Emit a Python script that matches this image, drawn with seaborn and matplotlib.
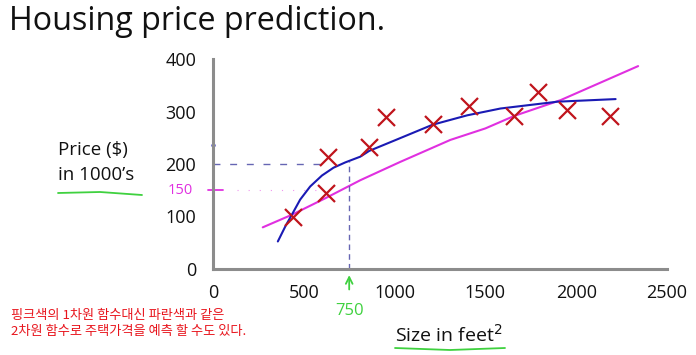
import matplotlib
matplotlib.use('Agg')
import matplotlib.pyplot as plt
import seaborn as sns
import pandas as pd
from matplotlib.lines import Line2D

# data
size_ft = [443, 621, 636, 860, 954, 1209, 1412, 1660, 1791, 1951, 2186]
price_k = [99, 144, 214, 232, 289, 276, 311, 292, 338, 304, 292]

# pink: straight-line (1st order) fit, hand drawn
lin_x = [274, 434, 621, 811, 1031, 1307, 1500, 1660, 1914, 2341]
lin_y = [79, 103, 135, 169, 204, 246, 268, 292, 322, 387]

# blue: quadratic (2nd order) fit, hand drawn
quad_x = [357, 400, 434, 480, 535, 600, 664, 728, 811, 860, 1000, 1209,
          1400, 1583, 1896, 2217]
quad_y = [52, 82, 103, 132, 157, 178, 193, 203, 214, 225, 245, 275,
          293, 306, 319, 324]

x_ticks = [0, 500, 1000, 1500, 2000, 2500]
y_ticks = [0, 100, 200, 300, 400]

pred_size = 750
pred_quad = 200
pred_lin = 150

W, H = 696, 355
AXIS_GRAY = '#8c8c8c'
RED = '#c0141c'
BLUE = '#1a1ab4'
PINK = '#e030e0'
GREEN = '#3fd13f'
FONT = ['Open Sans', 'DejaVu Sans']
KFONT = ['Noto Sans CJK KR', 'DejaVu Sans']

sns.set_theme(style='white')
plt.rcParams['font.family'] = FONT


def fx(px):
    return px / W


def fy(py):
    return 1 - py / H


fig = plt.figure(figsize=(W / 100, H / 100), dpi=100)
ax = fig.add_axes([fx(213), fy(268.7), 454 / W, 209.4 / H])

pts = pd.DataFrame({'size': size_ft, 'price': price_k})
lin = pd.DataFrame({'x': lin_x, 'y': lin_y})
quad = pd.DataFrame({'x': quad_x, 'y': quad_y})

sns.lineplot(data=lin, x='x', y='y', sort=False, color=PINK, lw=1.5, ax=ax)
sns.lineplot(data=quad, x='x', y='y', sort=False, color=BLUE, lw=1.5, ax=ax)
sns.scatterplot(data=pts, x='size', y='price', marker='x', s=150, color=RED,
                linewidth=1.6, ax=ax, zorder=5)

# prediction guide lines
ax.plot([0, 630], [pred_quad, pred_quad], color='#4040a0', lw=1,
        ls=(0, (5, 7)), alpha=0.8)
ax.plot([pred_size, pred_size], [0, 205], color='#4040a0', lw=1,
        ls=(0, (4, 3)), alpha=0.8)
ax.plot([-28, 55], [pred_lin, pred_lin], color=PINK, lw=1.3, clip_on=False)
ax.plot([130, 570], [pred_lin, pred_lin], color=PINK, lw=0.8,
        ls=(0, (1, 9)), alpha=0.5)
ax.plot([0], [236], marker='o', ms=2, color=BLUE, clip_on=False)

ax.set_xlim(0, 2500)
ax.set_ylim(0, 400)
ax.set_xticks(x_ticks)
ax.set_yticks(y_ticks)
ax.set_xlabel('')
ax.set_ylabel('')
for side in ['top', 'right']:
    ax.spines[side].set_visible(False)
for side in ['left', 'bottom']:
    ax.spines[side].set_color(AXIS_GRAY)
    ax.spines[side].set_linewidth(2.2)
ax.tick_params(direction='inout', length=8, width=2.2, color=AXIS_GRAY,
               labelsize=13, labelcolor='#111111', pad=7)
ax.tick_params(axis='y', pad=8)

# handwritten notes
ax.text(-250, pred_lin, '150', color=PINK, fontsize=10.5, va='center',
        ha='left', clip_on=False)
ax.annotate('', xy=(pred_size, -7), xytext=(pred_size, -45),
            xycoords='data', textcoords='data', annotation_clip=False,
            arrowprops=dict(arrowstyle='->', color=GREEN, lw=1.3))
ax.text(pred_size, -80, '750', color=GREEN, fontsize=12, ha='center',
        va='center', clip_on=False)

# texts outside the axes
fig.text(fx(9), fy(22), 'Housing price prediction.', fontsize=23.2,
         va='center', ha='left', color='#111111')
fig.text(fx(58), fy(150), 'Price ($)', fontsize=13.5, va='center',
         color='#111111')
fig.text(fx(58), fy(175), 'in 1000\u2019s', fontsize=13.5, va='center',
         color='#111111')
fig.text(fx(395), fy(335), 'Size in feet$^2$', fontsize=14, va='center',
         color='#111111')

fig.add_artist(Line2D([fx(58), fx(100), fx(142)], [fy(193), fy(192), fy(195)],
                      color=GREEN, lw=1.3))
fig.add_artist(Line2D([fx(395), fx(450), fx(505)], [fy(348), fy(350), fy(348)],
                      color=GREEN, lw=1.3))

fig.text(fx(11), fy(315), '핑크색의 1차원 함수대신 파란색과 같은', fontsize=9.5,
         va='center', color='#e8141c', family=KFONT)
fig.text(fx(11), fy(332), '2차원 함수로 주택가격을 예측 할 수도 있다.', fontsize=9.5,
         va='center', color='#e8141c', family=KFONT)

fig.savefig('out.png', dpi=100)
